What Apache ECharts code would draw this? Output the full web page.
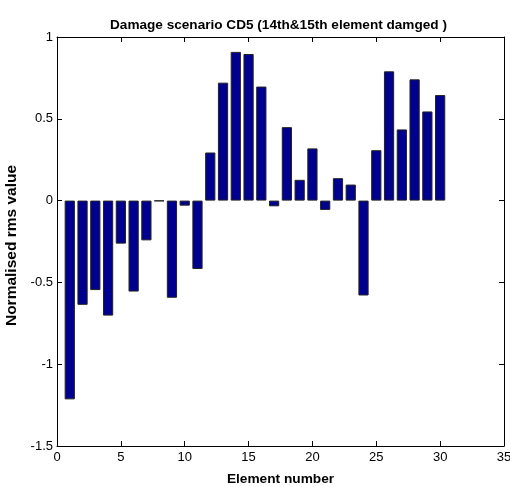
<!DOCTYPE html>
<html><head><meta charset="utf-8">
<script src="https://cdn.jsdelivr.net/npm/echarts@6/dist/echarts.min.js"></script>
<style>html,body{margin:0;padding:0;background:#fff}#c{width:510px;height:487px}</style>
</head><body><div id="c"></div>
<script>
const elements = [1,2,3,4,5,6,7,8,9,10,11,12,13,14,15,16,17,18,19,20,21,22,23,24,25,26,27,28,29,30];
const rmsValues = [-1.215,-0.637,-0.547,-0.703,-0.263,-0.556,-0.243,-0.003,-0.594,-0.031,-0.418,
  0.294,0.721,0.909,0.896,0.697,-0.035,0.449,0.127,0.319,-0.057,0.137,0.098,-0.58,
  0.308,0.79,0.435,0.741,0.545,0.645];
const xTicks = [0,5,10,15,20,25,30,35];
const yTicks = [-1.5,-1,-0.5,0,0.5,1];
const titleText = 'Damage scenario CD5 (14th&15th element damged )';
const xLabel = 'Element number';
const yLabel = 'Normalised rms value';

const FONT = '"Liberation Sans",Arial,sans-serif';
const chart = echarts.init(document.getElementById('c'));
const axisCommon = {
  axisLine:{show:true,onZero:false,lineStyle:{color:'#000',width:1}},
  axisTick:{show:true,inside:true,length:5,lineStyle:{color:'#000'}},
  splitLine:{show:false}
};
chart.setOption({
  animation:false,
  title:{text:titleText,left:105,top:13,
    textStyle:{fontFamily:FONT,fontSize:13.6,fontWeight:'bold',color:'#000'}},
  grid:{left:57,right:6,top:37,bottom:41,containLabel:false,outerBoundsMode:'none'},
  xAxis:[Object.assign({type:'value',min:0,max:35,interval:5,position:'bottom',
    name:xLabel,nameLocation:'middle',nameGap:26,
    nameTextStyle:{fontFamily:FONT,fontSize:13.7,fontWeight:'bold',color:'#000'},
    axisLabel:{fontFamily:FONT,fontSize:13,color:'#000',margin:5,
      formatter:v=>xTicks.includes(v)?String(v):''}},axisCommon),
    Object.assign({type:'value',min:0,max:35,interval:5,position:'top',axisLabel:{show:false}},axisCommon)],
  yAxis:[Object.assign({type:'value',min:-1.5,max:1,interval:0.5,position:'left',
    name:yLabel,nameLocation:'middle',nameGap:37,
    nameTextStyle:{fontFamily:FONT,fontSize:15.5,fontWeight:'bold',color:'#000',padding:[0,8,0,0]},
    axisLabel:{fontFamily:FONT,fontSize:13,color:'#000',margin:4,
      formatter:v=>yTicks.includes(v)?String(v):''}},axisCommon),
    Object.assign({type:'value',min:-1.5,max:1,interval:0.5,position:'right',axisLabel:{show:false}},axisCommon)],
  series:[{type:'bar',xAxisIndex:0,yAxisIndex:0,barWidth:'80%',
    data:elements.map((e,i)=>[e,rmsValues[i]]),
    itemStyle:{color:'#00008F',borderColor:'#222',borderWidth:1}}]
});
</script></body></html>
